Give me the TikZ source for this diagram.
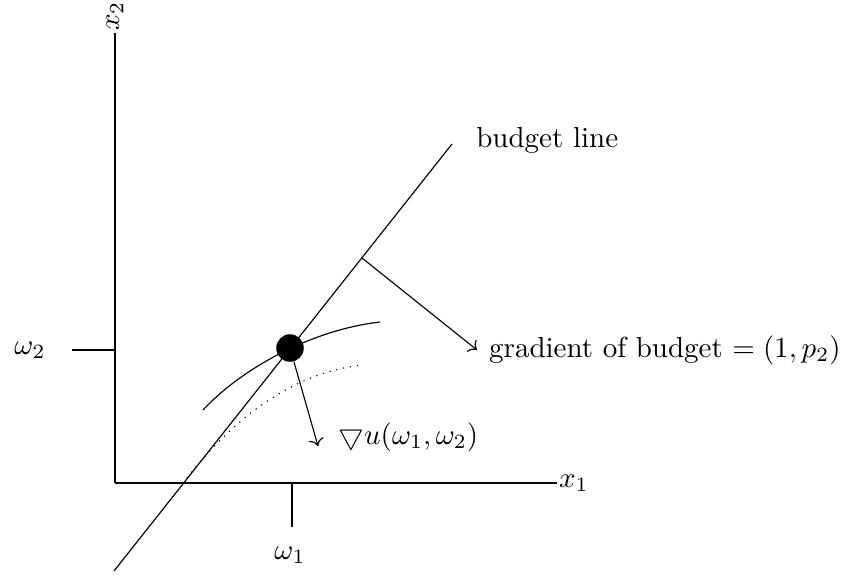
\documentclass[tikz,border=0pt]{standalone}
\usepackage{amsmath}
\usepackage{amssymb}
\usepackage{tikz}
\usetikzlibrary{arrows.meta,positioning,calc}
\tikzset{
  axis/.style={draw=black},
  tick/.style={draw=black},
  curve/.style={draw=black},
  indiff/.style={curve,dotted},
  grad/.style={->,draw=black},
  eqpt/.style={circle,fill=black,inner sep=0pt,minimum size=9.5pt},
  lbl/.style={inner sep=2pt},
}

\begin{document}
\begin{tikzpicture}[x=0.345pt,y=0.345pt]
  \useasboundingbox (0,0) rectangle (843,578);
  % axes
  \coordinate (o) at (115,95);
  \node[lbl,anchor=west,inner sep=0.5pt] (xone) at (557,95) {$x_1$};
  \node[lbl,rotate=90,anchor=west,inner sep=0.5pt] (xtwo) at (115,545) {$x_2$};
  \draw[axis] (o) -- (xone.west);
  \draw[axis] (o) -- (xtwo.west);

  % endowment ticks
  \coordinate (wtwo) at (115,228);
  \coordinate (wone) at (292,95);
  \node[lbl] (wtwolbl) at (30,228) {$\omega_2$};
  \node[lbl] (wonelbl) at (290,23) {$\omega_1$};
  \draw[tick] (wtwo) -- ++(-43,0);
  \draw[tick] (wone) -- ++(0,-44);

  % budget line
  \coordinate (bl) at (114,7);
  \coordinate (bu) at (452,434);
  \coordinate (bt) at (362,320);
  \node[lbl,anchor=west] (budlbl) at (470,438) {budget line};
  \draw[curve] (bl) -- (bu);

  % indifference curves
  \draw[curve] (203,168) .. controls (240,208) and (310,248) .. (380,256);
  \draw[indiff] (187,100) .. controls (240,168) and (300,206) .. (362,213);
  \node[eqpt] (eq) at (290,230) {};

  % gradients
  \node[lbl,anchor=west,inner sep=4pt] (gradlbl) at (477,228) {gradient of budget $=(1,p_2)$};
  \draw[grad] (bt) -- (gradlbl.west);
  \coordinate (du) at (318,132);
  \node[lbl,anchor=west] (dulbl) at (332,141) {$\bigtriangledown u(\omega_1,\omega_2)$};
  \draw[grad] (eq) -- (du);
\end{tikzpicture}
\end{document}
